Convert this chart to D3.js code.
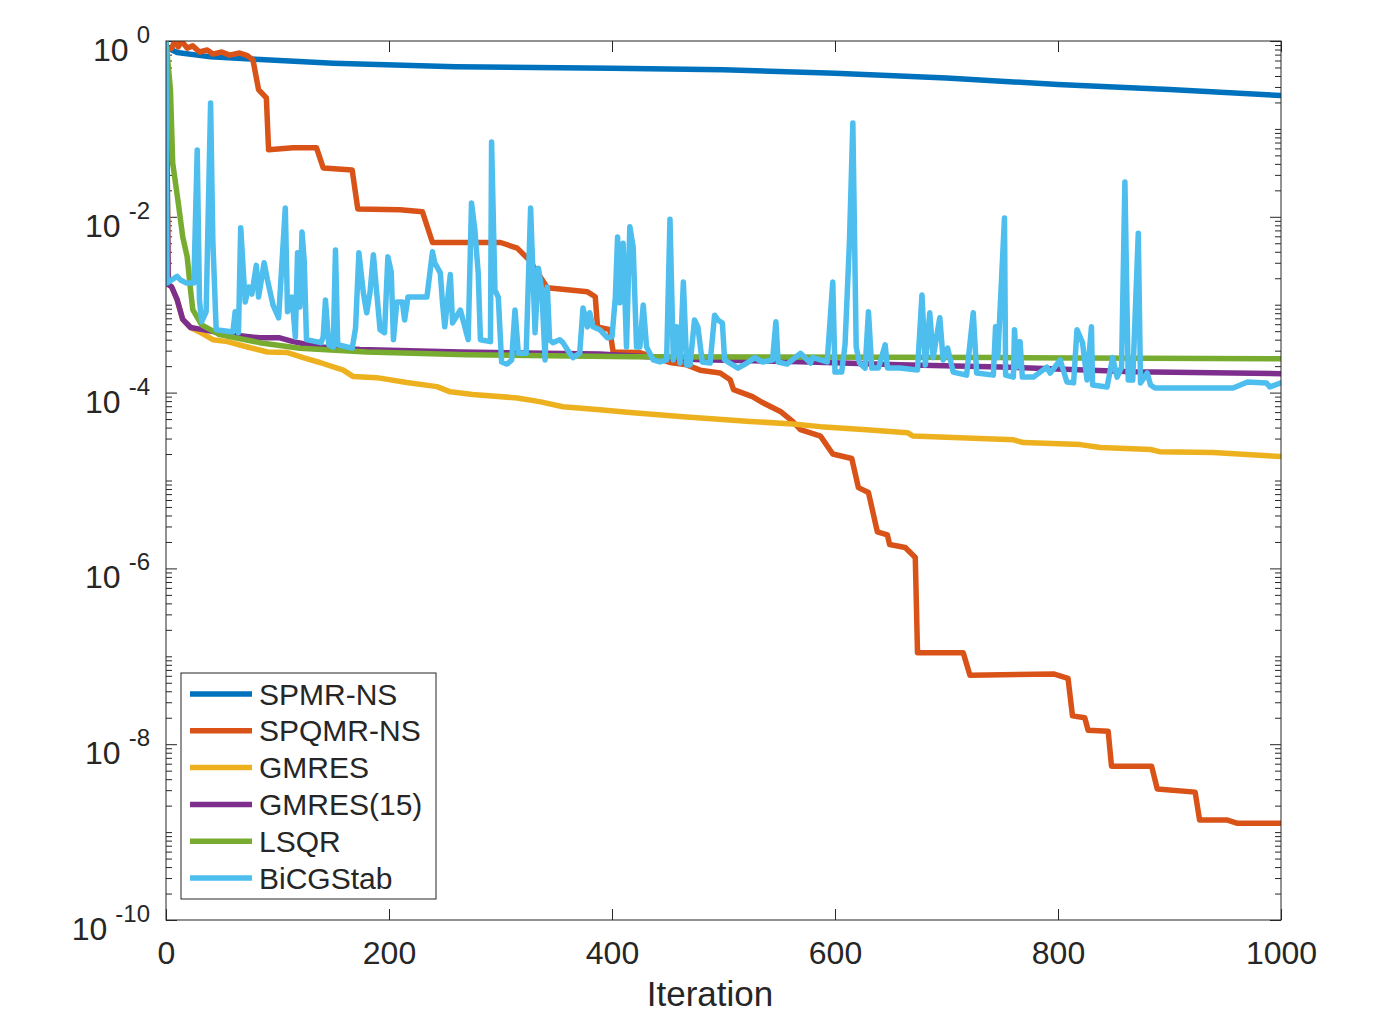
<!DOCTYPE html>
<html>
<head>
<meta charset="utf-8">
<title>Residual history</title>
<script src="https://d3js.org/d3.v7.min.js"></script>
<style>
  body { margin: 0; background: #fff; }
  text { font-family: "Liberation Sans", Arial, Helvetica, sans-serif; fill: #262626; }
</style>
</head>
<body>
<script>
var names = ["SPMR-NS", "SPQMR-NS", "GMRES", "GMRES(15)", "LSQR", "BiCGStab"];
var colors = ["#0072BD", "#D95319", "#EDB120", "#7E2F8E", "#77AC30", "#4DBEEE"];
var xTicks = [0, 200, 400, 600, 800, 1000];
var yExponents = [0, -2, -4, -6, -8, -10];

// [iteration, relative residual]
var spmr = [[0,0.85],[10,0.74],[40,0.66],[80,0.62],[150,0.56],[260,0.51],[400,0.49],[500,0.47],
  [600,0.43],[700,0.38],[800,0.32],[900,0.28],[1000,0.24]];

var spqmr = [[1,0.79],[5,0.83],[8,1.0],[11,0.86],[14,1.0],[19,0.83],[24,0.88],[30,0.75],[37,0.79],
  [42,0.71],[50,0.75],[57,0.69],[66,0.73],[73,0.68],[78,0.61],[83,0.28],[90,0.225],[92,0.058],
  [114,0.061],[135,0.061],[141,0.036],[167,0.034],[172,0.0123],[210,0.012],[230,0.0114],[239,5.1e-3],
  [300,5.1e-3],[315,4.4e-3],[326,3.2e-3],[342,1.56e-3],[378,1.4e-3],[385,1.23e-3],[387,5.6e-4],
  [398,5.2e-4],[401,2.9e-4],[425,2.85e-4],[452,2.2e-4],[467,2.07e-4],[479,1.8e-4],[497,1.67e-4],
  [506,1.4e-4],[509,1.08e-4],[526,9.0e-5],[535,7.7e-5],[551,6.1e-5],[562,4.7e-5],[569,3.8e-5],
  [587,3.2e-5],[598,2.0e-5],[615,1.78e-5],[621,8.3e-6],[630,7.3e-6],[638,2.6e-6],[647,2.4e-6],
  [649,1.87e-6],[663,1.73e-6],[672,1.33e-6],[674,1.1e-7],[715,1.1e-7],[721,6.1e-8],[796,6.3e-8],
  [809,5.6e-8],[813,2.1e-8],[824,2.0e-8],[827,1.44e-8],[845,1.4e-8],[848,5.6e-9],[884,5.6e-9],
  [889,3.1e-9],[923,2.85e-9],[927,1.37e-9],[952,1.37e-9],[961,1.26e-9],[1000,1.26e-9]];

var gmres = [[0,1],[2,1.7e-3],[5,1.6e-3],[10,1.14e-3],[15,6.8e-4],[22,5.5e-4],[30,4.9e-4],[42,4.0e-4],
  [55,3.8e-4],[73,3.3e-4],[91,2.9e-4],[109,2.85e-4],[123,2.5e-4],[138,2.2e-4],[159,1.8e-4],[168,1.52e-4],
  [189,1.48e-4],[216,1.3e-4],[243,1.17e-4],[255,1.02e-4],[275,9.5e-5],[315,8.7e-5],[335,7.9e-5],
  [356,6.9e-5],[389,6.4e-5],[419,5.9e-5],[464,5.3e-5],[524,4.7e-5],[562,4.4e-5],[587,4.1e-5],
  [625,3.8e-5],[665,3.5e-5],[670,3.2e-5],[760,2.9e-5],[769,2.7e-5],[820,2.56e-5],[838,2.37e-5],
  [883,2.25e-5],[891,2.13e-5],[939,2.08e-5],[1000,1.87e-5]];

var gmres15 = [[0,1],[2,1.7e-3],[5,1.6e-3],[10,1.14e-3],[15,6.8e-4],[22,5.5e-4],[33,5.2e-4],[55,4.6e-4],
  [84,4.2e-4],[102,4.2e-4],[114,3.8e-4],[138,3.3e-4],[174,3.1e-4],[264,2.9e-4],[389,2.75e-4],
  [479,2.37e-4],[569,2.25e-4],[658,2.07e-4],[748,1.96e-4],[867,1.73e-4],[1000,1.64e-4]];

var lsqr = [[0,1],[4,0.277],[6,0.041],[11,0.0144],[15,5.9e-3],[19,3.5e-3],[22,1.48e-3],[24,8.8e-4],
  [32,5.9e-4],[48,4.56e-4],[84,3.7e-4],[120,3.2e-4],[180,2.9e-4],[270,2.7e-4],[419,2.56e-4],
  [748,2.5e-4],[1000,2.43e-4]];

var bicgstab = [[0,1],[1,1.77e-3],[5,1.91e-3],[10,2.1e-3],[13,1.91e-3],[18,1.77e-3],[25,1.77e-3],
  [28,0.0575],[30,1.13e-3],[32,6.4e-4],[36,8.3e-4],[40,0.197],[42,5.4e-3],[45,5.2e-4],[60,4.9e-4],
  [62,8.3e-4],[65,4.8e-4],[67,7.5e-3],[71,1.07e-3],[74,1.59e-3],[77,1.32e-3],[81,2.8e-3],[83,1.22e-3],
  [88,3.0e-3],[91,1.91e-3],[96,9.9e-4],[101,7.1e-4],[107,0.0126],[109,8.3e-4],[113,1.22e-3],[116,4.3e-4],
  [118,3.9e-3],[120,9.4e-4],[122,6.7e-3],[124,3.1e-3],[126,4.0e-4],[139,3.7e-4],[141,4.3e-4],
  [143,1.13e-3],[146,3.5e-4],[150,3.3e-4],[152,4.2e-3],[154,3.5e-4],[167,3.2e-4],[170,5.4e-4],
  [173,3.9e-3],[177,1.36e-3],[180,8.1e-4],[183,1.39e-3],[186,3.7e-3],[189,1.36e-3],[192,5.2e-4],
  [196,4.8e-4],[199,3.5e-3],[202,2.35e-3],[204,4.0e-4],[207,1.07e-3],[212,1.07e-3],[214,6.7e-4],
  [217,1.22e-3],[234,1.22e-3],[239,4.0e-3],[241,3.0e-3],[246,2.3e-3],[248,1.05e-3],[250,5.6e-4],
  [255,2.2e-3],[257,6.2e-4],[264,8.7e-4],[268,5.6e-4],[271,4.0e-4],[274,0.0144],[277,7.1e-3],
  [280,2.3e-3],[282,4.0e-4],[291,3.8e-4],[292,0.071],[295,1.47e-3],[298,1.22e-3],[301,2.23e-4],
  [306,2.11e-4],[310,2.35e-4],[313,8.7e-4],[316,2.8e-4],[323,2.8e-4],[327,0.0126],[331,4.8e-4],
  [334,2.6e-3],[337,1.47e-3],[340,2.35e-4],[342,1.59e-3],[344,4.0e-4],[347,3.7e-4],[353,4.0e-4],
  [356,3.7e-4],[362,2.8e-4],[365,2.5e-4],[371,2.8e-4],[374,9.2e-4],[378,5.6e-4],[380,8.1e-4],
  [383,5.6e-4],[389,5.2e-4],[396,4.2e-4],[400,4.3e-4],[403,1.22e-3],[405,5.9e-3],[407,1.05e-3],
  [410,5.0e-3],[413,3.3e-4],[416,7.7e-3],[419,4.5e-3],[422,3.3e-4],[425,3.3e-4],[428,9.9e-4],
  [431,3.3e-4],[437,2.35e-4],[443,2.23e-4],[449,2.35e-4],[452,9.4e-3],[455,2.35e-4],[458,5.6e-4],
  [461,2.17e-4],[464,1.81e-3],[467,2.06e-4],[470,2.06e-4],[474,6.7e-4],[477,5.6e-4],[481,2.23e-4],
  [488,2.17e-4],[492,7.6e-4],[495,6.7e-4],[499,6.2e-4],[501,2.35e-4],[513,1.9e-4],[521,2.17e-4],
  [528,2.5e-4],[535,2.23e-4],[544,2.35e-4],[547,6.4e-4],[549,2.23e-4],[557,2.11e-4],[569,2.8e-4],
  [578,2.17e-4],[580,2.5e-4],[593,2.23e-4],[598,1.81e-3],[600,1.71e-4],[606,1.71e-4],[609,3.5e-4],
  [611,1.36e-3],[613,5.4e-3],[616,0.117],[619,3.3e-4],[622,2.17e-4],[627,1.9e-4],[630,8.3e-4],
  [633,1.9e-4],[639,1.9e-4],[645,3.5e-4],[647,1.9e-4],[658,1.9e-4],[674,1.81e-4],[678,1.29e-3],
  [681,2.06e-4],[685,8.1e-4],[688,2.5e-4],[694,7.1e-4],[697,2.35e-4],[701,3.2e-4],[706,1.71e-4],
  [718,1.58e-4],[724,8.1e-4],[727,1.67e-4],[742,1.58e-4],[744,5.6e-4],[746,2.5e-4],[752,9.7e-3],
  [753,1.58e-4],[760,1.5e-4],[761,5.2e-4],[763,1.95e-4],[766,3.8e-4],[768,1.5e-4],[778,1.5e-4],
  [790,1.95e-4],[793,1.67e-4],[802,2.35e-4],[808,1.32e-4],[814,1.29e-4],[817,5.2e-4],[822,3.7e-4],
  [826,1.39e-4],[830,5.6e-4],[831,1.22e-4],[844,1.16e-4],[849,2.5e-4],[853,1.5e-4],[857,1.95e-4],
  [860,0.0249],[863,1.39e-4],[867,1.39e-4],[872,6.5e-3],[874,1.29e-4],[880,1.67e-4],[883,1.22e-4],
  [887,1.13e-4],[957,1.13e-4],[970,1.32e-4],[987,1.29e-4],[990,1.16e-4],[1000,1.29e-4]];

var series = [spmr, spqmr, gmres, gmres15, lsqr, bicgstab];

var W = 1375, H = 1014;
var plotL = 166, plotR = 1281, plotT = 41, plotB = 920;
var ink = "#262626";
var lineW = 5.5;

var svg = d3.select("body").append("svg")
    .attr("width", W)
    .attr("height", H);

var x = d3.scaleLinear().domain([0, 1000]).range([plotL, plotR]);
var y = d3.scaleLog().domain([1e-10, 1]).range([plotB, plotT]);

// major ticks at labelled decades, minor ticks at 1..9 x 10^k elsewhere
var majors = yExponents.map(function (e) { return Math.pow(10, e); });
var minors = [];
d3.range(-10, 0).forEach(function (k) {
  d3.range(1, 10).forEach(function (m) {
    if (!(m === 1 && k % 2 === 0)) minors.push(m * Math.pow(10, k));
  });
});

svg.append("clipPath").attr("id", "plot")
  .append("rect")
    .attr("x", plotL).attr("y", plotT)
    .attr("width", plotR - plotL).attr("height", plotB - plotT);

function styleAxis(g) {
  g.select(".domain").remove();
  g.selectAll(".tick line").attr("stroke", ink).attr("stroke-width", 1);
}

svg.append("g")
    .attr("transform", "translate(0," + plotB + ")")
    .call(d3.axisBottom(x).tickValues(xTicks).tickSize(-11).tickPadding(21).tickFormat(d3.format("d")))
    .call(styleAxis)
    .selectAll("text")
      .attr("font-size", "32px")
      .attr("font-family", "Liberation Sans, Arial, sans-serif")
      .attr("fill", ink);

svg.append("g")
    .attr("transform", "translate(0," + plotT + ")")
    .call(d3.axisTop(x).tickValues(xTicks).tickSize(-11).tickFormat(""))
    .call(styleAxis);

[[plotL, d3.axisLeft], [plotR, d3.axisRight]].forEach(function (a) {
  svg.append("g")
      .attr("transform", "translate(" + a[0] + ",0)")
      .call(a[1](y).tickValues(majors).tickSize(-11).tickFormat(""))
      .call(styleAxis);
  svg.append("g")
      .attr("transform", "translate(" + a[0] + ",0)")
      .call(a[1](y).tickValues(minors).tickSize(-6).tickFormat(""))
      .call(styleAxis);
});

// y tick labels 10^e
var ylab = svg.append("g").selectAll("text")
  .data(yExponents)
  .enter().append("text")
    .attr("x", plotL - 16)
    .attr("y", function (e) { return y(Math.pow(10, e)) + 20; })
    .attr("text-anchor", "end")
    .attr("font-size", "32px");
ylab.append("tspan").text("10");
ylab.append("tspan")
    .attr("dx", 8)
    .attr("dy", -18)
    .attr("font-size", "24px")
    .text(function (e) { return e === 0 ? "0" : "-" + Math.abs(e); });

// data lines
var line = d3.line()
    .x(function (d) { return x(d[0]); })
    .y(function (d) { return y(d[1]); });

svg.append("g")
    .attr("clip-path", "url(#plot)")
  .selectAll("path")
  .data(series)
  .enter().append("path")
    .attr("d", line)
    .attr("fill", "none")
    .attr("stroke", function (d, i) { return colors[i]; })
    .attr("stroke-width", lineW)
    .attr("stroke-linejoin", "round")
    .attr("stroke-linecap", "round");

svg.append("rect")
    .attr("x", plotL).attr("y", plotT)
    .attr("width", plotR - plotL).attr("height", plotB - plotT)
    .attr("fill", "none")
    .attr("stroke", ink)
    .attr("stroke-width", 1);

svg.append("text")
    .attr("x", 710)
    .attr("y", 1006)
    .attr("text-anchor", "middle")
    .attr("font-size", "35px")
    .text("Iteration");

// legend
var legend = svg.append("g");
legend.append("rect")
    .attr("x", 181).attr("y", 673)
    .attr("width", 255).attr("height", 226)
    .attr("fill", "#fff")
    .attr("stroke", ink)
    .attr("stroke-width", 1);

var rows = legend.selectAll("g.row")
  .data(names)
  .enter().append("g")
    .attr("class", "row")
    .attr("transform", function (d, i) { return "translate(0," + (694 + i * 36.8) + ")"; });

rows.append("line")
    .attr("x1", 190).attr("x2", 252)
    .attr("stroke", function (d, i) { return colors[i]; })
    .attr("stroke-width", lineW);

rows.append("text")
    .attr("x", 259)
    .attr("y", 10.5)
    .attr("font-size", "30px")
    .text(function (d) { return d; });
</script>
</body>
</html>
